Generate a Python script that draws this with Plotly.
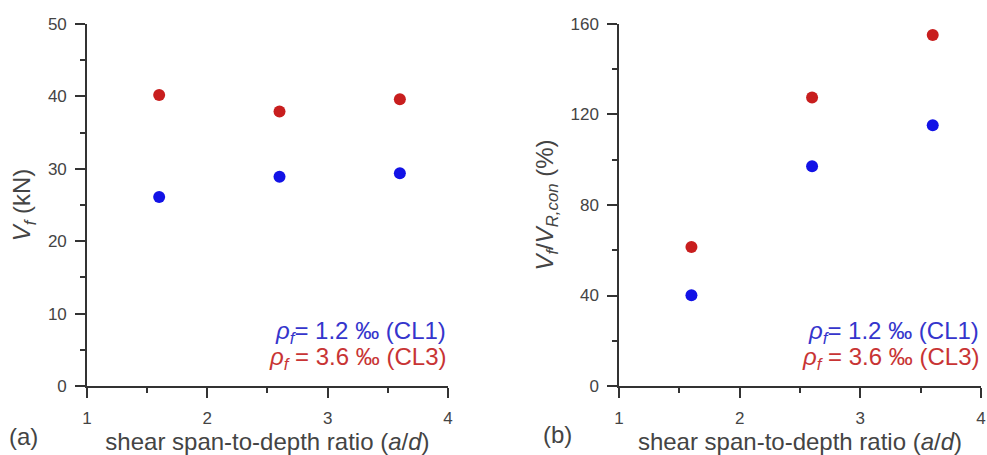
import plotly.graph_objects as go

ratio = [1.6, 2.6, 3.6]
vf_cl1 = [26.1, 28.9, 29.4]
vf_cl3 = [40.2, 37.9, 39.6]
pct_cl1 = [40.1, 97.1, 115.2]
pct_cl3 = [61.4, 127.5, 155.1]

x_ticks = [1, 2, 3, 4]
left_ticks = [0, 10, 20, 30, 40, 50]
right_ticks = [0, 40, 80, 120, 160]

BLUE = "#1212e6"
RED = "#c81e1e"
BLUE_T = "#3535cc"
RED_T = "#c83434"
AX = "#333333"
TXT = "#444444"
FONT = "Liberation Sans, Arial, sans-serif"

fig = go.Figure()
fig.add_trace(go.Scatter(x=ratio, y=vf_cl1, mode="markers", marker=dict(color=BLUE, size=12),
                         xaxis="x", yaxis="y", showlegend=False))
fig.add_trace(go.Scatter(x=ratio, y=vf_cl3, mode="markers", marker=dict(color=RED, size=12),
                         xaxis="x", yaxis="y", showlegend=False))
fig.add_trace(go.Scatter(x=ratio, y=pct_cl1, mode="markers", marker=dict(color=BLUE, size=12),
                         xaxis="x2", yaxis="y2", showlegend=False))
fig.add_trace(go.Scatter(x=ratio, y=pct_cl3, mode="markers", marker=dict(color=RED, size=12),
                         xaxis="x2", yaxis="y2", showlegend=False))

ydom = [0.1516, 0.9473]
common_x = dict(range=[1, 4], tickvals=x_ticks, ticks="outside", ticklen=10, tickwidth=1.5,
                tickcolor=AX, showline=True, linecolor=AX, linewidth=1.5, showgrid=False,
                zeroline=False, automargin=False, ticklabelstandoff=6,
                tickfont=dict(size=17, color=TXT, family=FONT),
                minor=dict(tickvals=[1.5, 2.5, 3.5], ticks="outside", ticklen=5, tickwidth=1.5, tickcolor=AX),
                title=dict(text="shear span-to-depth ratio (<i>a</i>/<i>d</i>)",
                           font=dict(size=24, color=TXT, family=FONT), standoff=4))
common_y = dict(ticks="outside", ticklen=10, tickwidth=1.5, tickcolor=AX, showline=True,
                linecolor=AX, linewidth=1.5, showgrid=False, zeroline=False, automargin=False,
                ticklabelstandoff=5, tickfont=dict(size=17, color=TXT, family=FONT))

fig.update_layout(
    width=987, height=455,
    margin=dict(l=0, r=0, t=0, b=0, autoexpand=False),
    paper_bgcolor="white", plot_bgcolor="white",
    font=dict(family=FONT, color=TXT),
    xaxis=dict(domain=[0.0881, 0.4539], anchor="y", **common_x),
    yaxis=dict(domain=ydom, anchor="x", range=[0, 50], tickvals=left_ticks,
               minor=dict(tickvals=[5, 15, 25, 35, 45], ticks="outside", ticklen=5, tickwidth=1.5, tickcolor=AX),
               title=dict(text="<i>V</i><sub><i>f</i></sub> (kN)", font=dict(size=24, color=TXT, family=FONT), standoff=10),
               **common_y),
    xaxis2=dict(domain=[0.6272, 0.9939], anchor="y2", **common_x),
    yaxis2=dict(domain=ydom, anchor="x2", range=[0, 160], tickvals=right_ticks,
                minor=dict(tickvals=[20, 60, 100, 140], ticks="outside", ticklen=5, tickwidth=1.5, tickcolor=AX),
                title=dict(text="<i>V</i><sub><i>f</i></sub>/<i>V</i><sub><i>R,con</i></sub> (%)",
                           font=dict(size=24, color=TXT, family=FONT), standoff=10),
                **common_y),
)

def legend_notes(xref, yref):
    return [
        dict(x=1.0, y=0.149, xref=xref + " domain", yref=yref + " domain", xanchor="right", yanchor="middle",
             text="<i>ρ</i><sub><i>f</i></sub>= 1.2 ‰ (CL1)", showarrow=False,
             font=dict(size=24, color=BLUE_T, family=FONT)),
        dict(x=1.0, y=0.077, xref=xref + " domain", yref=yref + " domain", xanchor="right", yanchor="middle",
             text="<i>ρ</i><sub><i>f</i></sub> = 3.6 ‰ (CL3)", showarrow=False,
             font=dict(size=24, color=RED_T, family=FONT)),
    ]

annots = legend_notes("x", "y") + legend_notes("x2", "y2")
annots.append(dict(x=23 / 987, y=1 - 436 / 455, xref="paper", yref="paper", text="(a)", showarrow=False,
                   xanchor="center", yanchor="middle", font=dict(size=24, color=TXT, family=FONT)))
annots.append(dict(x=557 / 987, y=1 - 434 / 455, xref="paper", yref="paper", text="(b)", showarrow=False,
                   xanchor="center", yanchor="middle", font=dict(size=24, color=TXT, family=FONT)))
fig.update_layout(annotations=annots)

fig.write_html("out.html", config={"displayModeBar": False},
               post_script="document.body.style.margin='0';document.body.style.overflow='hidden';")
